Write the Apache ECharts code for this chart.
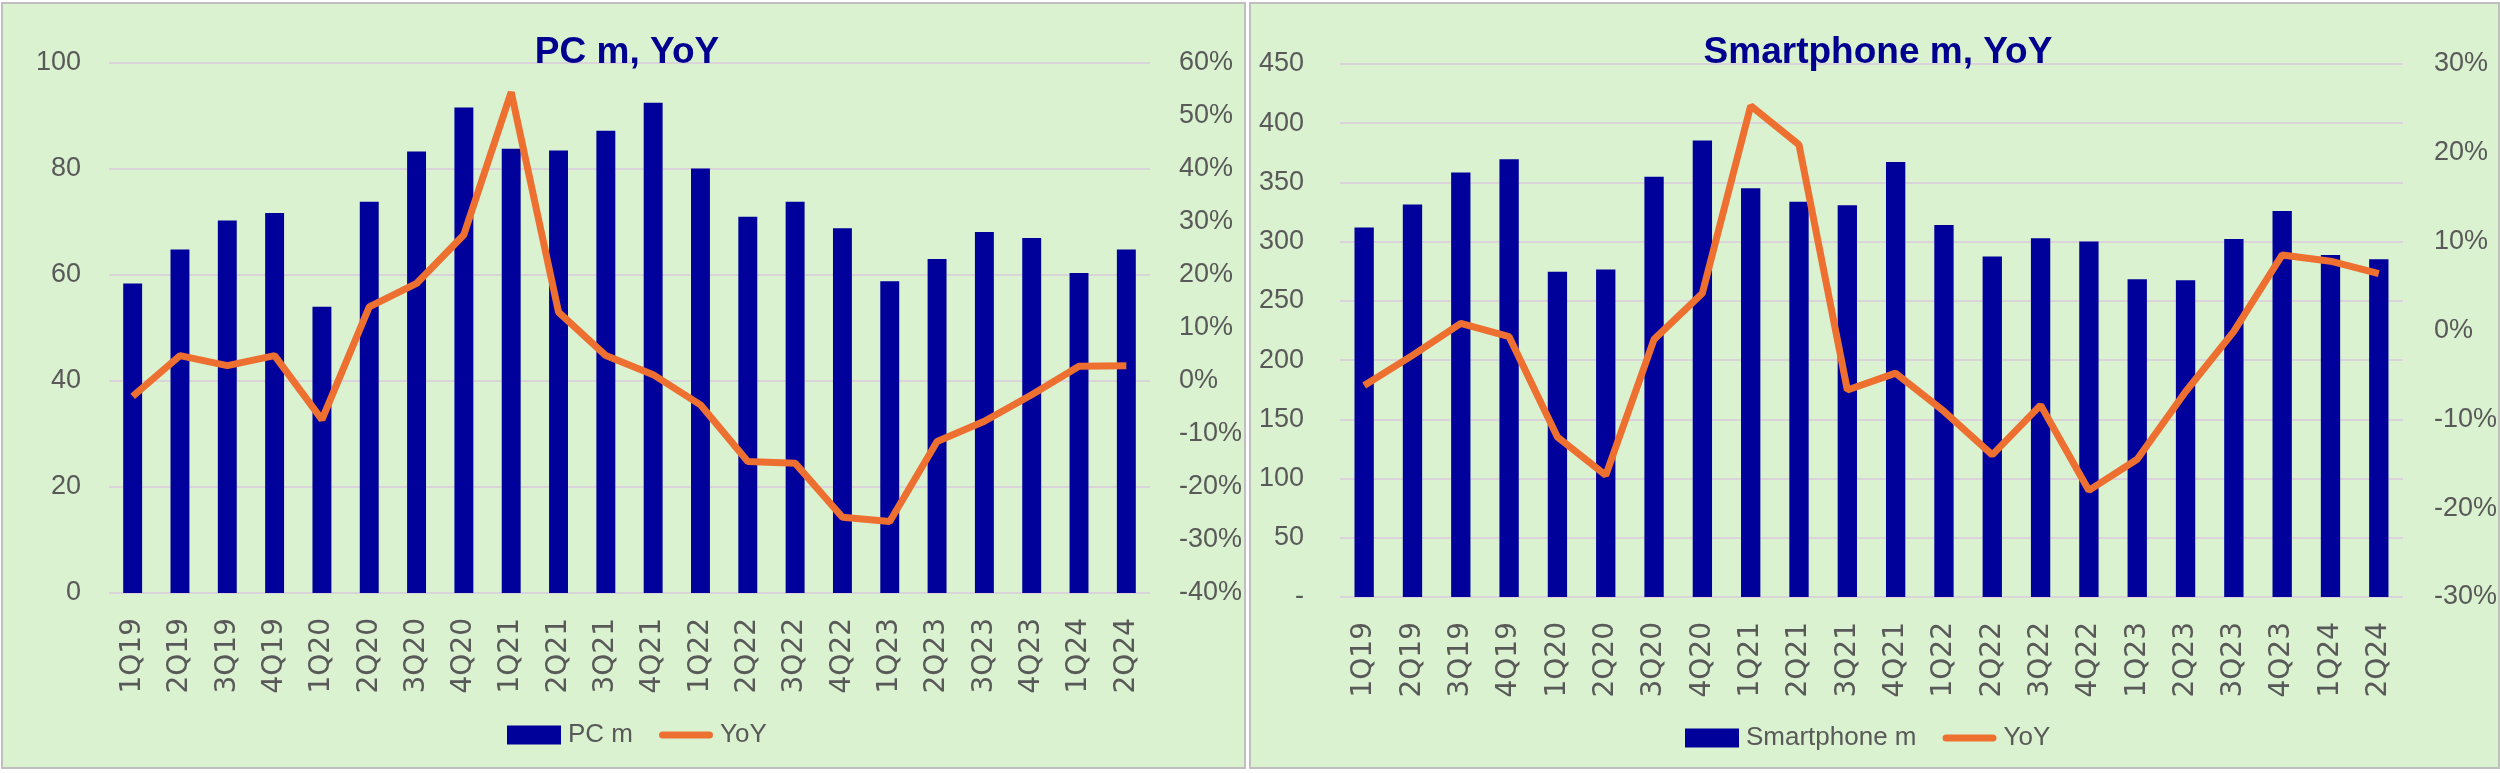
<!DOCTYPE html>
<html>
<head>
<meta charset="utf-8">
<script src="https://cdn.jsdelivr.net/npm/echarts@6/dist/echarts.min.js"></script>
<style>
  html, body { margin:0; padding:0; background:#ffffff; }
  #wrap { position:relative; width:2500px; height:773px; }
  .panel { position:absolute; background:#DAF2D0; border:2px solid #BFBFBF; box-sizing:border-box; }
  #chart { position:absolute; left:0; top:0; width:2500px; height:773px; }
</style>
</head>
<body>
<div id="wrap">
  <div class="panel" style="left:1px;top:2px;width:1245px;height:767px;"></div>
  <div class="panel" style="left:1249px;top:2px;width:1251px;height:767px;"></div>
  <div id="chart"></div>
</div>
<script>
// ---- data ----
const quarters = ['1Q19','2Q19','3Q19','4Q19','1Q20','2Q20','3Q20','4Q20','1Q21','2Q21','3Q21','4Q21',
                  '1Q22','2Q22','3Q22','4Q22','1Q23','2Q23','3Q23','4Q23','1Q24','2Q24'];
const pcUnits = [58.4, 64.8, 70.3, 71.7, 54.0, 73.8, 83.3, 91.6, 83.8, 83.5, 87.2, 92.5,
                 80.1, 71.0, 73.8, 68.8, 58.8, 63.0, 68.1, 67.0, 60.4, 64.8];
const pcYoY = [-2.9, 4.8, 2.9, 4.8, -7.3, 14.0, 18.4, 27.6, 54.5, 13.0, 4.8, 1.2,
               -4.5, -15.2, -15.5, -25.7, -26.5, -11.4, -7.6, -2.6, 2.8, 2.9];
const smartUnits = [311.9, 331.3, 358.3, 369.5, 274.7, 276.4, 354.9, 385.5, 345.0, 333.8, 330.7, 367.3,
                    314.1, 287.4, 302.9, 300.1, 268.3, 267.4, 302.3, 325.9, 288.8, 285.1];
const smartYoY = [-6.2, -2.8, 0.8, -0.7, -12.0, -16.3, -1.0, 4.2, 25.3, 20.9, -6.7, -4.8,
                  -9.1, -14.0, -8.4, -18.0, -14.5, -6.9, -0.1, 8.5, 7.8, 6.4];
const titles = ['PC m, YoY', 'Smartphone m, YoY'];
const barNames = ['PC m', 'Smartphone m'];
const lineName = 'YoY';

// ---- styles ----
const BAR = '#00009A';
const LINE = '#ED7031';
const TXT = '#595959';
const GRID = '#DAD4DA';
const SANS = "'Liberation Sans', Arial, sans-serif";
const XFONT = "'DejaVu Sans', sans-serif";
const LINE_ICON = 'path://M4,0 L56,0 A4,4 0 0 1 56,8 L4,8 A4,4 0 0 1 4,0 Z';

const chart = echarts.init(document.getElementById('chart'), null, {renderer:'canvas'});

function xAxis(gi){
  return {
    type:'category', gridIndex:gi, data:quarters,
    axisLine:{show:false}, axisTick:{show:false},
    axisLabel:{rotate:90, margin:25, color:TXT, fontFamily:XFONT, fontSize:28, interval:0}
  };
}
function yLeft(gi, max, interval, margin, fmt){
  return {
    type:'value', gridIndex:gi, min:0, max:max, interval:interval, position:'left',
    axisLine:{show:false}, axisTick:{show:false},
    splitLine:{show:true, lineStyle:{color:GRID, width:2}},
    axisLabel:{margin:margin, color:TXT, fontFamily:SANS, fontSize:27, formatter:fmt}
  };
}
function yRight(gi, min, max, margin){
  return {
    type:'value', gridIndex:gi, min:min, max:max, interval:10, position:'right',
    axisLine:{show:false}, axisTick:{show:false}, splitLine:{show:false},
    axisLabel:{margin:margin, color:TXT, fontFamily:SANS, fontSize:27, align:'left',
               formatter: v => v + '%'}
  };
}
function legend(left, top, barName){
  return {
    left:left, top:top, padding:0, itemGap:26, itemWidth:54, itemHeight:19,
    symbolKeepAspect:true,
    textStyle:{color:TXT, fontFamily:SANS, fontSize:26, padding:[0,0,0,2]},
    data:[
      {name:barName, icon:'rect'},
      {name:lineName, icon:LINE_ICON, itemStyle:{color:LINE}}
    ]
  };
}

const option = {
  backgroundColor:'transparent',
  animation:false,
  title:[
    {text:titles[0], left:622, top:29, textAlign:'center',
     textStyle:{color:'#000090', fontFamily:SANS, fontWeight:'bold', fontSize:37}},
    {text:titles[1], left:1873, top:29, textAlign:'center',
     textStyle:{color:'#000090', fontFamily:SANS, fontWeight:'bold', fontSize:37}}
  ],
  grid:[
    {left:109, top:63, width:1041, height:530},
    {left:1340, top:64, width:1064, height:533}
  ],
  legend:[
    legend(507, 722, barNames[0]),
    legend(1685, 725, barNames[1])
  ],
  xAxis:[xAxis(0), xAxis(1)],
  yAxis:[
    yLeft(0, 100, 20, 28, v => String(v)),
    yRight(0, -40, 60, 29),
    yLeft(1, 450, 50, 36, v => v === 0 ? '-' : String(v)),
    yRight(1, -30, 30, 31)
  ],
  series:[
    {name:barNames[0], type:'bar', xAxisIndex:0, yAxisIndex:0, data:pcUnits, barWidth:'40%',
     itemStyle:{color:BAR}},
    {name:lineName, type:'line', xAxisIndex:0, yAxisIndex:1, data:pcYoY, symbol:'none',
     lineStyle:{color:LINE, width:7}, itemStyle:{color:LINE}},
    {name:barNames[1], type:'bar', xAxisIndex:1, yAxisIndex:2, data:smartUnits, barWidth:'40%',
     itemStyle:{color:BAR}},
    {name:lineName, type:'line', xAxisIndex:1, yAxisIndex:3, data:smartYoY, symbol:'none',
     lineStyle:{color:LINE, width:7}, itemStyle:{color:LINE}}
  ]
};
chart.setOption(option);
</script>
</body>
</html>
